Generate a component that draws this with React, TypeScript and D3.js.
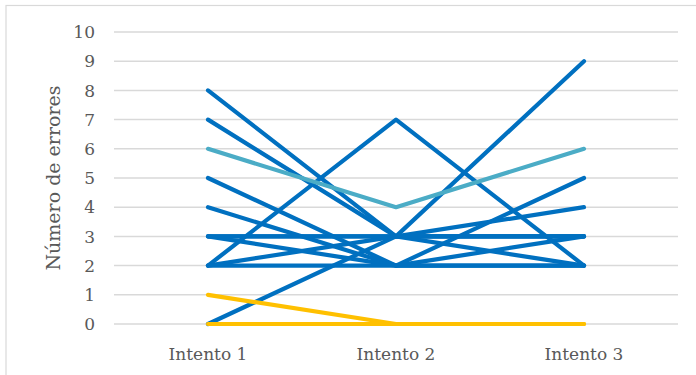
import React from "react";
import * as d3 from "d3";

const categories = ["Intento 1", "Intento 2", "Intento 3"];
const yTicks = [0, 1, 2, 3, 4, 5, 6, 7, 8, 9, 10];

// each participant: errors per attempt
const blueSeries: number[][] = [
  [8, 3, 3],
  [7, 3, 2],
  [0, 3, 9],
  [3, 3, 4],
  [2, 3, 3],
  [5, 2, 5],
  [4, 2, 2],
  [3, 2, 3],
  [2, 2, 2],
  [3, 3, 3],
  [2, 7, 2],
];
const tealSeries: number[][] = [[6, 4, 6]];
const goldSeries: number[][] = [
  [1, 0, 0],
  [0, 0, 0],
];

const W = 696;
const H = 375;
const left = 114;
const right = 678;
const top = 32;
const bottom = 324;

export default function App() {
  const x = d3.scalePoint<string>().domain(categories).range([left, right]).padding(0.5);
  const y = d3.scaleLinear().domain([0, 10]).range([bottom, top]);
  const line = d3
    .line<number>()
    .x((_, i) => x(categories[i]) as number)
    .y((d) => y(d));

  const font = "'DejaVu Serif', serif";
  const textColor = "#595959";

  const renderSeries = (arr: number[][], color: string, key: string) =>
    arr.map((s, i) => (
      <path
        key={key + i}
        d={line(s) || ""}
        fill="none"
        stroke={color}
        strokeWidth={4.2}
        strokeLinejoin="round"
        strokeLinecap="round"
      />
    ));

  return (
    <svg
      width={W}
      height={H}
      style={{ position: "absolute", left: 0, top: 0, background: "#fff" }}
    >
      <rect x={6} y={5.5} width={W} height={H} fill="#fff" stroke="#d9d9d9" strokeWidth={1.2} />
      {yTicks.map((t) => (
        <g key={t}>
          <line x1={left} x2={right} y1={y(t)} y2={y(t)} stroke="#d9d9d9" strokeWidth={1.5} />
          <text
            x={95}
            y={y(t)}
            dy="0.36em"
            textAnchor="end"
            fontFamily={font}
            fontSize={17}
            fill={textColor}
          >
            {t}
          </text>
        </g>
      ))}
      {categories.map((c) => (
        <text
          key={c}
          x={x(c) as number}
          y={360}
          textAnchor="middle"
          fontFamily={font}
          fontSize={17}
          fill={textColor}
        >
          {c}
        </text>
      ))}
      <text
        transform={`translate(60,${(top + bottom) / 2}) rotate(-90)`}
        textAnchor="middle"
        fontFamily={font}
        fontSize={19}
        fill={textColor}
      >
        Número de errores
      </text>
      {renderSeries(blueSeries, "#0070C0", "b")}
      {renderSeries(tealSeries, "#4BACC6", "t")}
      {renderSeries(goldSeries, "#FFC000", "g")}
    </svg>
  );
}
